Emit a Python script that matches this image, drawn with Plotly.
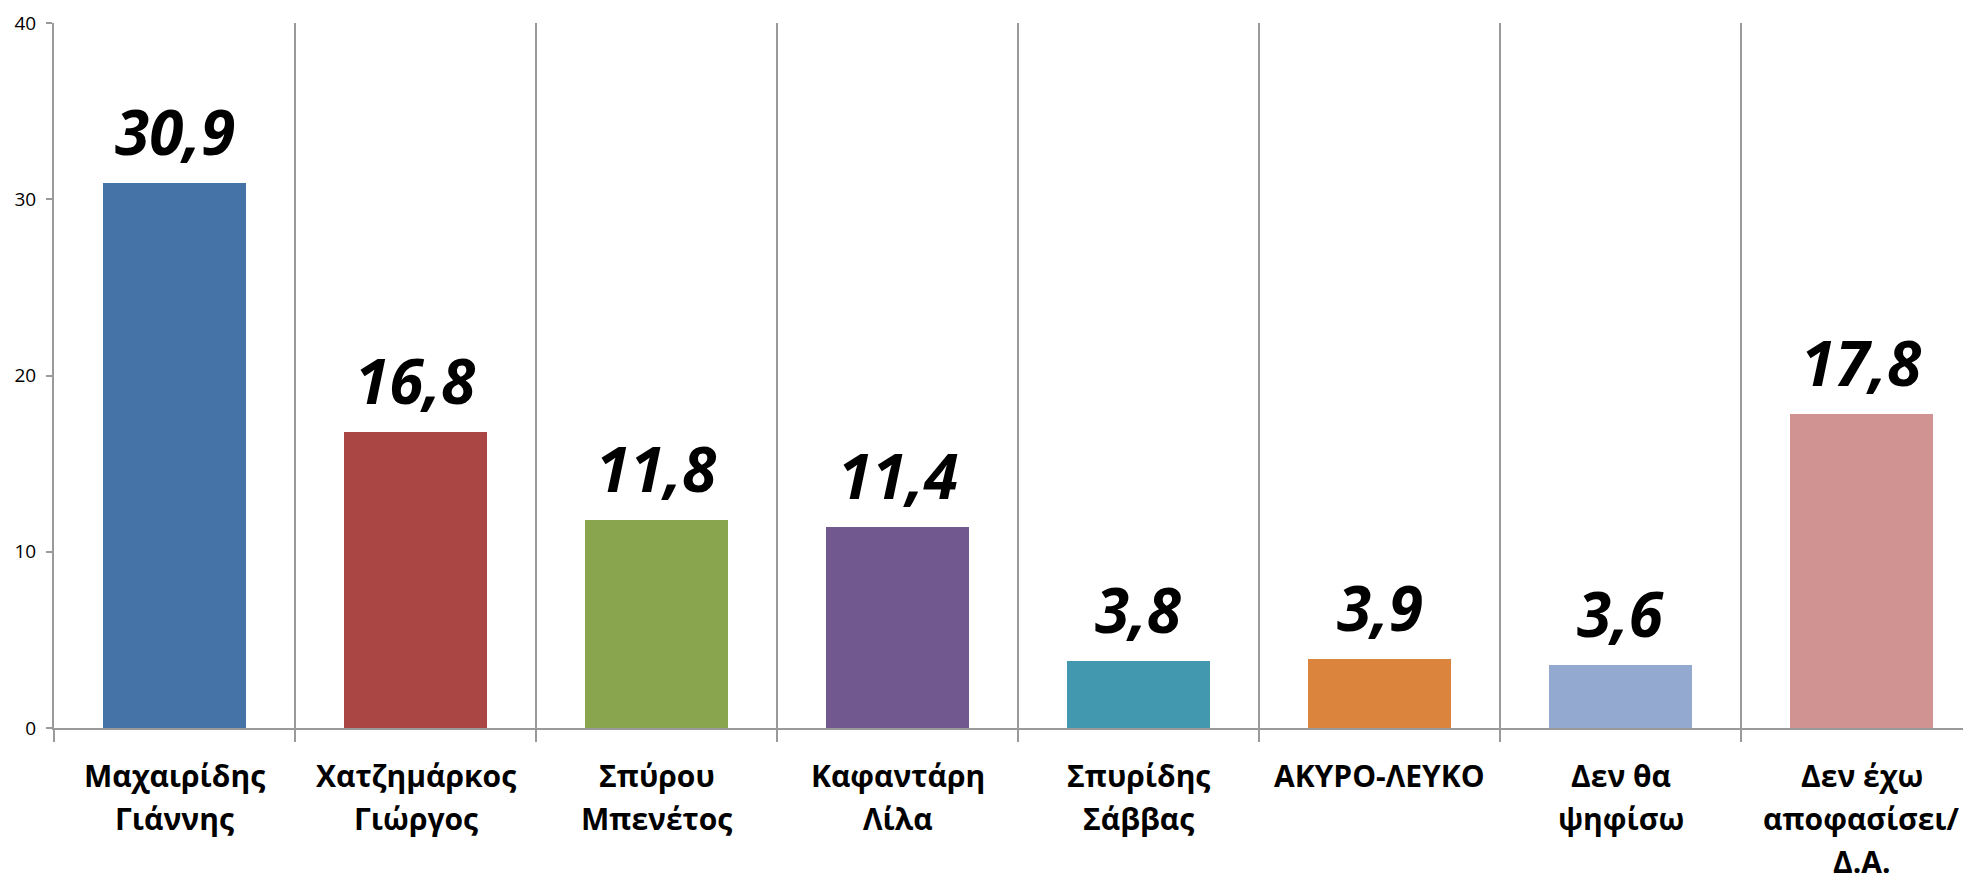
import plotly.graph_objects as go

categories = ["Μαχαιρίδης<br>Γιάννης", "Χατζημάρκος<br>Γιώργος", "Σπύρου<br>Μπενέτος",
              "Καφαντάρη<br>Λίλα", "Σπυρίδης<br>Σάββας", "ΑΚΥΡΟ-ΛΕΥΚΟ",
              "Δεν θα<br>ψηφίσω", "Δεν έχω<br>αποφασίσει/<br>Δ.Α."]
values = [30.9, 16.8, 11.8, 11.4, 3.8, 3.9, 3.6, 17.8]
labels = ["30,9", "16,8", "11,8", "11,4", "3,8", "3,9", "3,6", "17,8"]
colors = ["#4572A7", "#AA4643", "#89A54E", "#71588F", "#4198AF", "#DB843D", "#93A9CF", "#D19392"]
yticks = [0, 10, 20, 30, 40]

fig = go.Figure()
fig.add_trace(go.Bar(
    x=categories, y=values, marker_color=colors, width=0.59,
    marker_line_width=0, hoverinfo="skip",
))

for c, v, t in zip(categories, values, labels):
    fig.add_annotation(x=c, y=v, text=t, showarrow=False, yanchor="bottom", yshift=8,
                       font=dict(family="Open Sans", size=62, color="#000000",
                                 weight="bold", style="italic"))

# category labels, one annotation per line for Excel-like line spacing
for c in categories:
    for j, line in enumerate(c.split("<br>")):
        fig.add_annotation(x=c, y=0, text=line, showarrow=False, yanchor="middle",
                           yshift=-(47 + 43 * j), xanchor="center", borderpad=0,
                           font=dict(family="Open Sans", size=30, color="#000000",
                                     weight="bold"))

fig.update_layout(
    width=1963, height=873,
    margin=dict(l=46, r=0, t=15, b=153, autoexpand=False),
    plot_bgcolor="white", paper_bgcolor="white",
    showlegend=False, bargap=0,
    xaxis=dict(
        type="category", categoryorder="array", categoryarray=categories,
        range=[-0.5, 7.454], tickson="boundaries", automargin=False,
        showgrid=True, gridcolor="#9a9a9a", gridwidth=2,
        showline=True, linecolor="#9a9a9a", linewidth=2,
        ticks="outside", ticklen=12, tickwidth=2, tickcolor="#9a9a9a",
        showticklabels=False,
        fixedrange=True,
    ),
    yaxis=dict(
        range=[0, 40], tickvals=yticks, showgrid=False, zeroline=False,
        showline=True, linecolor="#9a9a9a", linewidth=2, automargin=False,
        ticks="outside", ticklen=6, tickwidth=2, tickcolor="#9a9a9a",
        ticklabelstandoff=6,
        tickfont=dict(family="Open Sans", size=19, color="#000000"),
        fixedrange=True,
    ),
)

fig.write_html("out.html")
